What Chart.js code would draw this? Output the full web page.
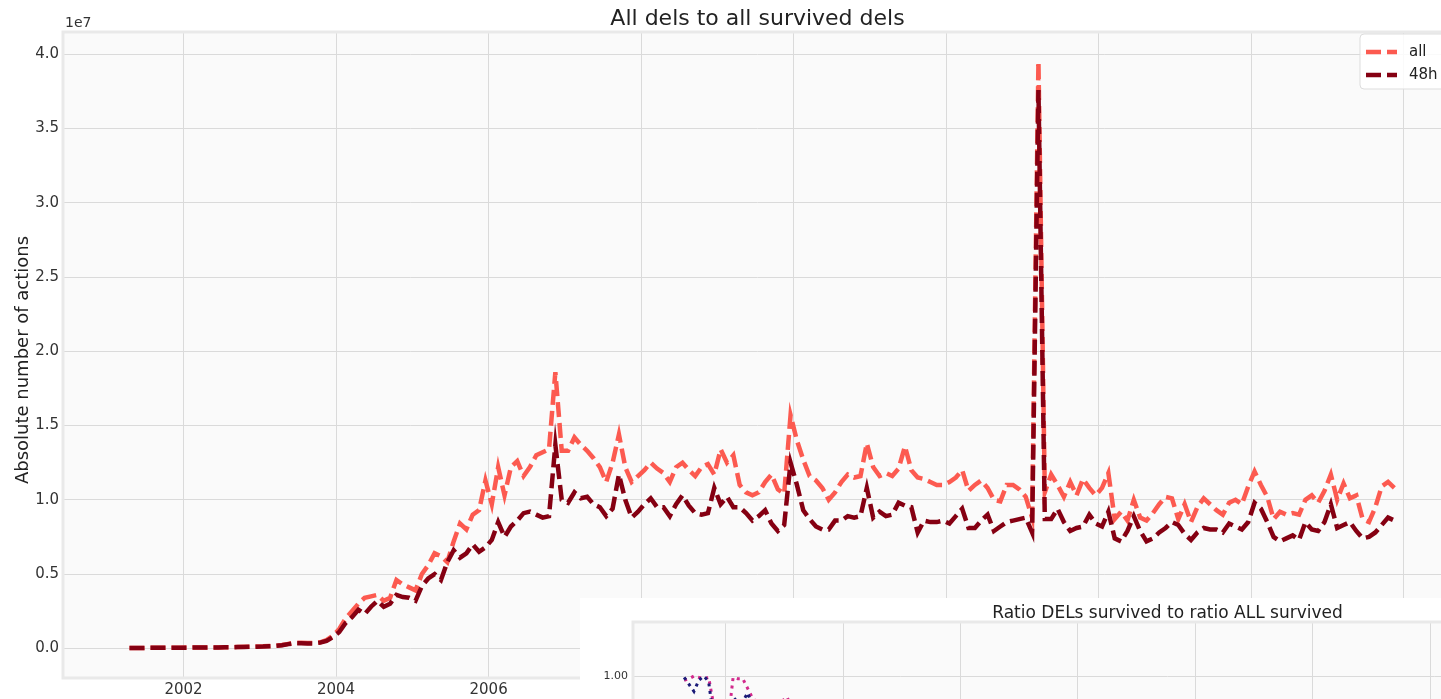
<!DOCTYPE html>
<html>
<head>
<meta charset="utf-8">
<title>All dels to all survived dels</title>
<script src="https://cdn.jsdelivr.net/npm/chart.js@4.4.1/dist/chart.umd.min.js"></script>
<style>
  html, body { margin: 0; padding: 0; background: #fff; overflow: hidden; }
  #wrap { position: relative; width: 1441px; height: 699px; overflow: hidden; }
  #mainChart { position: absolute; left: 0; top: 0; }
  #insetChart { position: absolute; left: 580px; top: 598px; }
</style>
</head>
<body>
<div id="wrap">
  <canvas id="mainChart" width="1475" height="699"></canvas>
  <canvas id="insetChart" width="1200" height="400"></canvas>
</div>
<script>
// monthly values, first month is April 2001, main series in units of 1e7
const startYear = 2001;
const startMonth = 4;

const allDels = [
  0.002, 0.002, 0.002, 0.003, 0.003, 0.003, 0.004, 0.004, 0.004,
  0.005, 0.005, 0.005, 0.006, 0.006, 0.006, 0.007, 0.008, 0.009, 0.010, 0.011, 0.012,
  0.013, 0.015, 0.017, 0.022, 0.030, 0.038, 0.037, 0.036, 0.035, 0.040, 0.055, 0.085,
  0.13, 0.20, 0.25, 0.30, 0.34, 0.35, 0.36, 0.32, 0.34, 0.46, 0.43, 0.41,
  0.39, 0.50, 0.56, 0.64, 0.62, 0.58, 0.72, 0.84, 0.80, 0.90, 0.93, 1.13,
  0.97, 1.22, 1.03, 1.22, 1.26, 1.16, 1.22, 1.30, 1.32, 1.34, 1.86, 1.33,
  1.33, 1.42, 1.37, 1.33, 1.28, 1.22, 1.12, 1.25, 1.44, 1.22, 1.12, 1.16,
  1.20, 1.25, 1.21, 1.18, 1.12, 1.22, 1.25, 1.20, 1.16, 1.22, 1.24, 1.17,
  1.34, 1.25, 1.30, 1.10, 1.05, 1.03, 1.05, 1.12, 1.17, 1.07, 1.04, 1.57,
  1.40, 1.27, 1.16, 1.13, 1.08, 1.00, 1.05, 1.12, 1.17, 1.15, 1.16, 1.38,
  1.22, 1.16, 1.18, 1.16, 1.21, 1.36, 1.20, 1.15, 1.14, 1.12, 1.10, 1.10,
  1.12, 1.15, 1.20, 1.06, 1.10, 1.13, 1.08, 1.00, 0.99, 1.10, 1.10, 1.07,
  1.02, 0.88, 3.95, 1.05, 1.17, 1.10, 1.02, 1.12, 1.03, 1.14, 1.08, 1.03,
  1.08, 1.18, 0.87, 0.92, 0.86, 1.00, 0.88, 0.86, 0.91, 0.97, 1.02, 1.01,
  0.87, 0.97, 0.85, 0.95, 1.01, 0.97, 0.93, 0.90, 0.98, 1.00, 0.97, 1.09,
  1.19, 1.10, 1.02, 0.87, 0.92, 0.90, 0.91, 0.90, 1.00, 1.03, 0.98, 1.06,
  1.17, 1.00, 1.11, 1.01, 1.03, 0.87, 0.85, 0.95, 1.09, 1.12, 1.08
];

const dels48h = [
  0.002, 0.002, 0.002, 0.003, 0.003, 0.003, 0.003, 0.004, 0.004,
  0.004, 0.005, 0.005, 0.005, 0.006, 0.006, 0.007, 0.007, 0.008, 0.009, 0.010, 0.011,
  0.012, 0.014, 0.016, 0.020, 0.028, 0.035, 0.034, 0.033, 0.033, 0.038, 0.050, 0.075,
  0.11, 0.17, 0.21, 0.26, 0.23, 0.28, 0.32, 0.28, 0.30, 0.36, 0.345, 0.34,
  0.32, 0.42, 0.47, 0.50, 0.46, 0.58, 0.66, 0.61, 0.64, 0.70, 0.65, 0.68,
  0.73, 0.85, 0.75, 0.82, 0.86, 0.91, 0.92, 0.90, 0.88, 0.89, 1.37, 1.00,
  0.98, 1.05, 1.01, 1.02, 0.97, 0.95, 0.89, 0.94, 1.17, 1.00, 0.88, 0.92,
  0.97, 1.01, 0.95, 0.95, 0.89, 0.97, 1.03, 0.96, 0.91, 0.90, 0.91, 1.08,
  0.97, 1.02, 0.95, 0.95, 0.91, 0.86, 0.89, 0.93, 0.84, 0.79, 0.83, 1.25,
  1.10, 0.93, 0.87, 0.82, 0.80, 0.80, 0.86, 0.86, 0.89, 0.88, 0.89, 1.08,
  0.88, 0.92, 0.89, 0.90, 0.98, 0.96, 0.95, 0.78, 0.86, 0.85, 0.85, 0.86,
  0.84, 0.89, 0.94, 0.81, 0.81, 0.86, 0.90, 0.79, 0.82, 0.85, 0.86, 0.87,
  0.88, 0.78, 3.76, 0.87, 0.87, 0.94, 0.85, 0.79, 0.81, 0.82, 0.90, 0.84,
  0.82, 0.92, 0.74, 0.72, 0.79, 0.89, 0.79, 0.72, 0.74, 0.78, 0.81, 0.85,
  0.83, 0.77, 0.73, 0.78, 0.81, 0.80, 0.80, 0.78, 0.84, 0.82, 0.80, 0.85,
  0.98, 0.94, 0.85, 0.75, 0.72, 0.74, 0.76, 0.73, 0.85, 0.80, 0.79, 0.85,
  0.97, 0.81, 0.83, 0.85, 0.79, 0.74, 0.75, 0.78, 0.83, 0.88, 0.86
];

// inset: only its first months are visible in the picture
const ratioDels = [0.995, 0.97, 0.945, 0.985, 1.0, 0.98, 0.85, 0.82, 0.80, 0.86, 0.925, 0.905, 0.91,
  0.94, 0.89, 0.86, 0.85, 0.84, 0.86, 0.85, 0.83, 0.84, 0.82, 0.80, 0.78, 0.79];
const ratioAll = [0.985, 0.99, 1.0, 0.995, 0.99, 0.995, 0.90, 0.84, 0.80, 0.84, 0.995, 0.99, 0.99,
  0.955, 0.92, 0.905, 0.88, 0.87, 0.88, 0.89, 0.91, 0.925, 0.89, 0.87, 0.86, 0.85];

const xTicks = [2002, 2004, 2006, 2008, 2010, 2012, 2014, 2016, 2018];
const yTicks = [0, 0.5, 1.0, 1.5, 2.0, 2.5, 3.0, 3.5, 4.0];
const insetYTicks = [0.25, 0.5, 0.75, 1.0];

const FONT = "'DejaVu Sans', sans-serif";
const xMin = 2000.42, xMax = 2018.63;

function monthX(i) {
  return startYear + (startMonth - 1 + i + 0.5) / 12;
}
function toPoints(arr) {
  return arr.map((v, i) => ({ x: monthX(i), y: v }));
}

// background of the page and of the plotting area
const bgPlugin = {
  id: 'bg',
  beforeDraw(chart) {
    const ctx = chart.ctx, a = chart.chartArea;
    ctx.save();
    ctx.fillStyle = '#ffffff';
    ctx.fillRect(0, 0, chart.width, chart.height);
    ctx.fillStyle = '#fafafa';
    ctx.fillRect(a.left, a.top, a.right - a.left, a.bottom - a.top);
    ctx.restore();
  },
  afterDraw(chart) {
    const ctx = chart.ctx, a = chart.chartArea;
    ctx.save();
    ctx.strokeStyle = '#e9e9e9';
    ctx.lineWidth = 3;
    ctx.strokeRect(a.left, a.top, a.right - a.left, a.bottom - a.top);
    ctx.restore();
  }
};

const mainDecor = {
  id: 'mainDecor',
  afterDraw(chart) {
    const ctx = chart.ctx, a = chart.chartArea;
    ctx.save();
    ctx.fillStyle = '#222';
    ctx.font = '22px ' + FONT;
    ctx.textAlign = 'center';
    ctx.textBaseline = 'alphabetic';
    ctx.fillText('All dels to all survived dels', (a.left + a.right) / 2, 25);

    ctx.fillStyle = '#333';
    ctx.font = '14px ' + FONT;
    ctx.textAlign = 'left';
    ctx.fillText('1e7', 65, 27);

    ctx.fillStyle = '#222';
    ctx.font = '18px ' + FONT;
    ctx.translate(28, 360);
    ctx.rotate(-Math.PI / 2);
    ctx.textAlign = 'center';
    ctx.fillText('Absolute number of actions', 0, 0);
    ctx.restore();

    // legend box, upper right
    ctx.save();
    const lx = 1360, ly = 34, lw = 92, lh = 55;
    ctx.fillStyle = 'rgba(255,255,255,0.85)';
    ctx.strokeStyle = '#dddddd';
    ctx.lineWidth = 1;
    ctx.beginPath();
    ctx.roundRect(lx, ly, lw, lh, 4);
    ctx.fill();
    ctx.stroke();
    chart.data.datasets.forEach((ds, i) => {
      const y = ly + 18 + i * 23;
      ctx.strokeStyle = ds.borderColor;
      ctx.lineWidth = ds.borderWidth;
      ctx.setLineDash(ds.borderDash);
      ctx.beginPath();
      ctx.moveTo(lx + 6, y);
      ctx.lineTo(lx + 37, y);
      ctx.stroke();
      ctx.setLineDash([]);
      ctx.fillStyle = '#222';
      ctx.font = '15px ' + FONT;
      ctx.textAlign = 'left';
      ctx.textBaseline = 'middle';
      ctx.fillText(ds.label, lx + 49, y);
    });
    ctx.restore();
  }
};

new Chart(document.getElementById('mainChart'), {
  type: 'line',
  data: {
    datasets: [
      {
        label: 'all',
        data: toPoints(allDels),
        borderColor: '#fc5a50',
        borderWidth: 4.5,
        borderDash: [15, 6],
        pointRadius: 0,
        tension: 0,
        fill: false,
        order: 2
      },
      {
        label: '48h',
        data: toPoints(dels48h),
        borderColor: '#850012',
        borderWidth: 4.5,
        borderDash: [15, 6],
        pointRadius: 0,
        tension: 0,
        fill: false,
        order: 1
      }
    ]
  },
  options: {
    responsive: false,
    devicePixelRatio: 1,
    animation: false,
    events: [],
    layout: { padding: { top: 32, right: 23, left: 0, bottom: 0 } },
    plugins: { legend: { display: false }, tooltip: { enabled: false }, title: { display: false } },
    scales: {
      x: {
        type: 'linear',
        min: xMin,
        max: xMax,
        afterBuildTicks: s => { s.ticks = xTicks.map(v => ({ value: v })); },
        afterFit: s => { s.height = 21; },
        grid: { color: '#dadada', lineWidth: 1, drawTicks: false },
        border: { display: false },
        ticks: {
          color: '#333',
          font: { family: FONT, size: 15 },
          padding: 3,
          maxRotation: 0,
          callback: v => String(v)
        }
      },
      y: {
        min: -0.2,
        max: 4.15,
        afterBuildTicks: s => { s.ticks = yTicks.map(v => ({ value: v })); },
        afterFit: s => { s.width = 63; },
        grid: { color: '#dadada', lineWidth: 1, drawTicks: false },
        border: { display: false },
        ticks: {
          color: '#333',
          font: { family: FONT, size: 15 },
          padding: 4,
          callback: v => v.toFixed(1)
        }
      }
    }
  },
  plugins: [bgPlugin, mainDecor]
});

const insetDecor = {
  id: 'insetDecor',
  afterDraw(chart) {
    const ctx = chart.ctx, a = chart.chartArea;
    ctx.save();
    ctx.fillStyle = '#222';
    ctx.font = '17px ' + FONT;
    ctx.textAlign = 'center';
    ctx.textBaseline = 'alphabetic';
    ctx.fillText('Ratio DELs survived to ratio ALL survived', (a.left + a.right) / 2, 20);
    ctx.restore();
  }
};

new Chart(document.getElementById('insetChart'), {
  type: 'line',
  data: {
    datasets: [
      {
        label: 'DELs survived',
        data: toPoints(ratioDels),
        borderColor: '#1b1b78',
        borderWidth: 3,
        borderDash: [3, 4.5],
        pointRadius: 0,
        tension: 0,
        fill: false
      },
      {
        label: 'ALL survived',
        data: toPoints(ratioAll),
        borderColor: '#d2298c',
        borderWidth: 3,
        borderDash: [3, 4.5],
        pointRadius: 0,
        tension: 0,
        fill: false
      }
    ]
  },
  options: {
    responsive: false,
    devicePixelRatio: 1,
    animation: false,
    events: [],
    layout: { padding: { top: 24, right: 78, left: 0, bottom: 0 } },
    plugins: { legend: { display: false }, tooltip: { enabled: false } },
    scales: {
      x: {
        type: 'linear',
        min: xMin,
        max: xMax,
        afterBuildTicks: s => { s.ticks = xTicks.map(v => ({ value: v })); },
        afterFit: s => { s.height = 98; },
        grid: { color: '#dadada', lineWidth: 1, drawTicks: false },
        border: { display: false },
        ticks: { display: false }
      },
      y: {
        min: 0.2,
        max: 1.193,
        afterBuildTicks: s => { s.ticks = insetYTicks.map(v => ({ value: v })); },
        afterFit: s => { s.width = 53; },
        grid: { color: '#dadada', lineWidth: 1, drawTicks: false },
        border: { display: false },
        ticks: {
          color: '#333',
          font: { family: FONT, size: 11 },
          padding: 5,
          callback: v => v.toFixed(2)
        }
      }
    }
  },
  plugins: [bgPlugin, insetDecor]
});
</script>
</body>
</html>
